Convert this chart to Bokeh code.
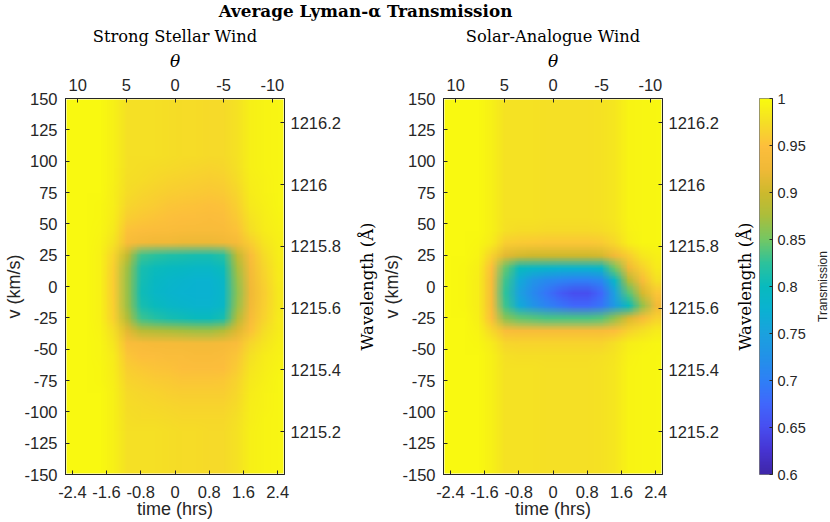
import base64
import struct
import zlib

import numpy as np
from bokeh.plotting import figure
from bokeh.models import (Range1d, LinearAxis, FixedTicker, CustomJSTickFormatter,
                          LinearColorMapper, Title)
from bokeh.layouts import row, column
from bokeh.embed import file_html
from bokeh.resources import INLINE

# ---------------- data ----------------
TIME_H = [-2.4, -2.08, -1.76, -1.44, -1.12, -0.8, -0.48, -0.16,
          0.16, 0.48, 0.8, 1.12, 1.44, 1.76, 2.08, 2.4]          # bin centres (hrs)
TIME_STEP = 0.32
VEL_KMS = list(range(-145, 150, 10))                                 # bin centres (km/s)
VEL_STEP = 10

THETA_TICKS = [10, 5, 0, -5, -10]
THETA_LIMITS = [11.25, -11.25]
TIME_TICKS = [-2.4, -1.6, -0.8, 0, 0.8, 1.6, 2.4]
VEL_TICKS = list(range(-150, 151, 25))
WL_TICKS = [1215.2, 1215.4, 1215.6, 1215.8, 1216.0, 1216.2]
CB_TICKS = [0.6, 0.65, 0.7, 0.75, 0.8, 0.85, 0.9, 0.95, 1.0]
LYA_REST = 1215.67
C_KMS = 299792.458

# Strong stellar wind: transmission far from line centre, per time bin
STRONG_BG = [0.998, 0.998, 0.997, 0.990, 0.976, 0.975, 0.975, 0.974,
             0.973, 0.972, 0.971, 0.971, 0.978, 0.990, 0.993, 0.995]
STRONG_LINE_VEL = [95, 85, 75, 65, 55, 45, 35, 25, 15, 5, -5, -15, -25, -35,
                   -45, -55, -65, -75, -85, -95, -105]
STRONG_LINE = [
    [0.998, 0.998, 0.997, 0.990, 0.975, 0.974, 0.973, 0.971, 0.970, 0.968, 0.967, 0.968, 0.976, 0.990, 0.993, 0.995],
    [0.998, 0.998, 0.997, 0.990, 0.974, 0.972, 0.970, 0.967, 0.965, 0.963, 0.962, 0.963, 0.972, 0.988, 0.992, 0.995],
    [0.998, 0.998, 0.997, 0.989, 0.972, 0.968, 0.965, 0.962, 0.960, 0.958, 0.957, 0.958, 0.968, 0.986, 0.991, 0.994],
    [0.998, 0.998, 0.996, 0.988, 0.968, 0.963, 0.960, 0.956, 0.954, 0.952, 0.951, 0.953, 0.963, 0.983, 0.990, 0.994],
    [0.998, 0.998, 0.996, 0.986, 0.962, 0.957, 0.954, 0.951, 0.949, 0.947, 0.946, 0.948, 0.958, 0.979, 0.988, 0.993],
    [0.998, 0.998, 0.995, 0.983, 0.953, 0.948, 0.946, 0.944, 0.942, 0.940, 0.940, 0.942, 0.952, 0.974, 0.986, 0.992],
    [0.998, 0.997, 0.993, 0.978, 0.940, 0.930, 0.926, 0.925, 0.923, 0.923, 0.923, 0.925, 0.935, 0.962, 0.980, 0.990],
    [0.998, 0.997, 0.991, 0.966, 0.890, 0.830, 0.822, 0.817, 0.813, 0.810, 0.810, 0.820, 0.890, 0.945, 0.972, 0.988],
    [0.998, 0.997, 0.991, 0.962, 0.870, 0.812, 0.803, 0.798, 0.794, 0.790, 0.790, 0.803, 0.872, 0.935, 0.968, 0.986],
    [0.998, 0.997, 0.991, 0.960, 0.866, 0.808, 0.795, 0.786, 0.782, 0.778, 0.778, 0.790, 0.865, 0.930, 0.965, 0.985],
    [0.998, 0.997, 0.991, 0.960, 0.866, 0.805, 0.790, 0.782, 0.778, 0.775, 0.775, 0.786, 0.860, 0.925, 0.962, 0.984],
    [0.998, 0.997, 0.991, 0.961, 0.868, 0.812, 0.800, 0.790, 0.785, 0.780, 0.780, 0.790, 0.865, 0.930, 0.963, 0.984],
    [0.998, 0.997, 0.991, 0.964, 0.880, 0.830, 0.820, 0.810, 0.805, 0.800, 0.800, 0.810, 0.880, 0.940, 0.967, 0.985],
    [0.998, 0.997, 0.993, 0.974, 0.915, 0.885, 0.880, 0.875, 0.872, 0.870, 0.870, 0.880, 0.912, 0.952, 0.974, 0.987],
    [0.998, 0.998, 0.994, 0.980, 0.945, 0.940, 0.937, 0.935, 0.933, 0.932, 0.932, 0.935, 0.945, 0.968, 0.980, 0.990],
    [0.998, 0.998, 0.995, 0.985, 0.955, 0.950, 0.947, 0.945, 0.943, 0.942, 0.942, 0.944, 0.955, 0.975, 0.986, 0.992],
    [0.998, 0.998, 0.996, 0.987, 0.962, 0.957, 0.954, 0.952, 0.950, 0.948, 0.948, 0.950, 0.960, 0.980, 0.989, 0.993],
    [0.998, 0.998, 0.996, 0.988, 0.967, 0.963, 0.960, 0.958, 0.956, 0.955, 0.955, 0.957, 0.966, 0.983, 0.990, 0.994],
    [0.998, 0.998, 0.997, 0.990, 0.971, 0.968, 0.966, 0.964, 0.962, 0.961, 0.961, 0.962, 0.970, 0.986, 0.991, 0.994],
    [0.998, 0.998, 0.997, 0.990, 0.973, 0.971, 0.969, 0.968, 0.967, 0.966, 0.966, 0.967, 0.973, 0.988, 0.992, 0.995],
    [0.998, 0.998, 0.997, 0.990, 0.974, 0.973, 0.972, 0.971, 0.970, 0.969, 0.969, 0.970, 0.975, 0.989, 0.993, 0.995],
]

# Solar-analogue wind
SOLAR_BG = [0.998, 0.998, 0.997, 0.990, 0.978, 0.977, 0.977, 0.976,
            0.976, 0.976, 0.976, 0.977, 0.982, 0.993, 0.995, 0.996]
SOLAR_LINE_VEL = [45, 35, 25, 15, 5, -5, -15, -25, -35, -45, -55]
SOLAR_LINE = [
    [0.998, 0.998, 0.997, 0.990, 0.975, 0.973, 0.972, 0.971, 0.971, 0.971, 0.971, 0.972, 0.979, 0.992, 0.995, 0.996],
    [0.998, 0.998, 0.996, 0.985, 0.962, 0.958, 0.957, 0.956, 0.956, 0.956, 0.956, 0.958, 0.970, 0.988, 0.994, 0.996],
    [0.998, 0.997, 0.993, 0.965, 0.915, 0.905, 0.900, 0.900, 0.900, 0.900, 0.900, 0.905, 0.930, 0.962, 0.982, 0.990],
    [0.998, 0.996, 0.990, 0.950, 0.845, 0.800, 0.790, 0.785, 0.780, 0.780, 0.780, 0.790, 0.850, 0.925, 0.965, 0.985],
    [0.998, 0.996, 0.988, 0.940, 0.830, 0.765, 0.730, 0.715, 0.705, 0.700, 0.700, 0.710, 0.790, 0.880, 0.940, 0.975],
    [0.998, 0.996, 0.988, 0.938, 0.825, 0.750, 0.715, 0.690, 0.665, 0.650, 0.650, 0.675, 0.750, 0.840, 0.905, 0.955],
    [0.998, 0.996, 0.988, 0.940, 0.830, 0.765, 0.730, 0.705, 0.690, 0.675, 0.675, 0.690, 0.740, 0.800, 0.865, 0.930],
    [0.998, 0.997, 0.990, 0.950, 0.860, 0.845, 0.840, 0.835, 0.835, 0.835, 0.835, 0.840, 0.865, 0.910, 0.940, 0.965],
    [0.998, 0.997, 0.993, 0.970, 0.945, 0.940, 0.940, 0.940, 0.940, 0.940, 0.940, 0.942, 0.950, 0.965, 0.975, 0.985],
    [0.998, 0.998, 0.996, 0.985, 0.968, 0.966, 0.966, 0.966, 0.966, 0.966, 0.966, 0.967, 0.975, 0.988, 0.992, 0.995],
    [0.998, 0.998, 0.997, 0.990, 0.975, 0.974, 0.974, 0.974, 0.974, 0.974, 0.974, 0.975, 0.980, 0.992, 0.994, 0.996],
]

# colormap anchors (parula-like, sampled from the reference colour bar)
CMAP_FRAC = [0.0, 0.0625, 0.125, 0.1875, 0.25, 0.3125, 0.375, 0.4375, 0.5,
             0.5625, 0.625, 0.6875, 0.75, 0.8125, 0.875, 0.9375, 1.0]
CMAP_RGB = [(62, 38, 168), (70, 52, 210), (71, 78, 240), (64, 103, 252),
            (46, 128, 246), (34, 146, 232), (27, 162, 222), (10, 178, 210),
            (8, 186, 190), (45, 194, 155), (115, 199, 100), (170, 190, 60),
            (205, 185, 45), (240, 185, 55), (253, 190, 60), (245, 222, 38),
            (249, 251, 14)]
CLIM = (0.6, 1.0)

# ---------------- styling / layout constants ----------------
AX = "#262626"
SANS = "Liberation Sans"
SERIF = "DejaVu Serif"
TICK_FS = "16.5px"
LABEL_FS = "18px"
FIG_H = 502
BORDER_TOP = 78
BORDER_BOTTOM = 48


def build_grid(bg, line_vel, line_rows):
    lookup = dict(zip(line_vel, line_rows))
    return np.array([lookup.get(v, bg) for v in VEL_KMS], dtype=float)


N_COL = 256
PAL_RGB = [tuple(int(round(np.interp(f, CMAP_FRAC, [c[i] for c in CMAP_RGB])))
                 for i in range(3)) for f in np.linspace(0, 1, N_COL)]
PALETTE = ["#%02x%02x%02x" % c for c in PAL_RGB]
mapper = LinearColorMapper(palette=PALETTE, low=CLIM[0], high=CLIM[1])


def heatmap_png(grid):
    """Colour the data cells with the same palette / limits as the colour mapper
    and pack them (one pixel per cell) as a PNG, so the browser can draw the
    image with smooth (interpolated) scaling like the reference."""
    idx = np.floor((grid - CLIM[0]) / (CLIM[1] - CLIM[0]) * N_COL).astype(int)
    idx = np.clip(idx, 0, N_COL - 1)
    rows_top_down = idx[::-1]
    h, w = rows_top_down.shape
    raw = b"".join(b"\x00" + bytes([ch for k in r for ch in PAL_RGB[k]])
                   for r in rows_top_down)

    def chunk(tag, data):
        return (struct.pack(">I", len(data)) + tag + data +
                struct.pack(">I", zlib.crc32(tag + data) & 0xffffffff))

    png = (b"\x89PNG\r\n\x1a\n" +
           chunk(b"IHDR", struct.pack(">IIBBBBB", w, h, 8, 2, 0, 0, 0)) +
           chunk(b"IDAT", zlib.compress(raw, 9)) + chunk(b"IEND", b""))
    return "data:image/png;base64," + base64.b64encode(png).decode()


fmt_code = "return String(Math.round(tick*100)/100);"

t_lo = TIME_H[0] - TIME_STEP / 2
t_hi = TIME_H[-1] + TIME_STEP / 2
v_lo = VEL_KMS[0] - VEL_STEP / 2
v_hi = VEL_KMS[-1] + VEL_STEP / 2
wl_lo = LYA_REST * (1 + v_lo / C_KMS)
wl_hi = LYA_REST * (1 + v_hi / C_KMS)


def style_axis(ax, standoff, tick_in=4, fs=TICK_FS):
    ax.major_tick_in = tick_in
    ax.major_tick_out = 0
    ax.minor_tick_in = 0
    ax.minor_tick_out = 0
    ax.axis_line_color = AX
    ax.major_tick_line_color = AX
    ax.major_label_text_font = SANS
    ax.major_label_text_font_size = fs
    ax.major_label_text_color = AX
    ax.major_label_standoff = standoff
    ax.formatter = CustomJSTickFormatter(code=fmt_code)


def label_axis(ax, text, standoff, font=SANS, size=LABEL_FS, style="normal", color=AX):
    ax.axis_label = text
    ax.axis_label_standoff = standoff
    ax.axis_label_text_font = font
    ax.axis_label_text_font_size = size
    ax.axis_label_text_font_style = style
    ax.axis_label_text_color = color


def side_title(p, text, side, standoff, font=SERIF, size="16.5px", color="black"):
    t = Title(text=text, align="center", standoff=standoff, text_font=font,
              text_font_size=size, text_font_style="normal", text_color=color)
    p.add_layout(t, side)


def panel(title, grid, width, b_left, b_right, left_title=None):
    p = figure(width=width, height=FIG_H, toolbar_location=None, output_backend="svg",
               title=None,
               x_range=Range1d(t_lo, t_hi), y_range=Range1d(v_lo, v_hi),
               min_border_left=b_left, min_border_right=b_right,
               min_border_top=BORDER_TOP, min_border_bottom=BORDER_BOTTOM,
               x_axis_location="below", y_axis_location="left")
    p.extra_x_ranges = {"theta": Range1d(THETA_LIMITS[0], THETA_LIMITS[1])}
    p.extra_y_ranges = {"wl": Range1d(wl_lo, wl_hi)}
    p.grid.visible = False
    p.outline_line_color = AX
    p.background_fill_color = "white"
    p.border_fill_color = "white"
    p.image_url(url=[heatmap_png(grid)], x=t_lo, y=v_hi, w=t_hi - t_lo, h=v_hi - v_lo,
                anchor="top_left")

    bottom = p.below[0]
    bottom.ticker = FixedTicker(ticks=TIME_TICKS)
    style_axis(bottom, 11)
    label_axis(bottom, "time (hrs)", -2)
    left = p.left[0]
    left.ticker = FixedTicker(ticks=VEL_TICKS)
    style_axis(left, 8)
    label_axis(left, "v (km/s)", -3)

    top = LinearAxis(x_range_name="theta", ticker=FixedTicker(ticks=THETA_TICKS))
    style_axis(top, 8)
    label_axis(top, "\u03b8", 5, font=SERIF, size="17px", style="italic", color="black")
    p.add_layout(top, "above")
    right = LinearAxis(y_range_name="wl", ticker=FixedTicker(ticks=WL_TICKS))
    style_axis(right, 6)
    p.add_layout(right, "right")

    p.add_layout(Title(text=title, align="center", standoff=3, text_font=SERIF,
                       text_font_size="16.3px", text_font_style="normal",
                       text_color="black"), "above")
    if left_title is not None:
        side_title(p, left_title, "left", 6)
    return p


strong = build_grid(STRONG_BG, STRONG_LINE_VEL, STRONG_LINE)
solar = build_grid(SOLAR_BG, SOLAR_LINE_VEL, SOLAR_LINE)

p1 = panel("Strong Stellar Wind", strong, 350, 65, 66)
p2 = panel("Solar-Analogue Wind", solar, 375, 93, 63, left_title="Wavelength (\u00c5)")

# colour bar
p3 = figure(width=83, height=FIG_H, toolbar_location=None, output_backend="svg",
            title=None, x_range=Range1d(0, 1), y_range=Range1d(CLIM[0], CLIM[1]),
            min_border_left=34, min_border_right=35,
            min_border_top=BORDER_TOP, min_border_bottom=BORDER_BOTTOM,
            x_axis_location=None, y_axis_location="right")
p3.grid.visible = False
p3.outline_line_color = AX
p3.outline_line_alpha = 0.6
ramp = np.linspace(CLIM[0], CLIM[1], N_COL).reshape(N_COL, 1)
p3.image(image=[ramp], x=0, y=CLIM[0], dw=1, dh=CLIM[1] - CLIM[0], color_mapper=mapper)
cb_ax = p3.right[0]
cb_ax.ticker = FixedTicker(ticks=CB_TICKS)
style_axis(cb_ax, 5, tick_in=3, fs="14.5px")
side_title(p3, "Wavelength (\u00c5)", "left", 10)

# holder for the colour-bar label
p4 = figure(width=22, height=FIG_H, toolbar_location=None, output_backend="svg",
            title=None, x_range=Range1d(0, 1), y_range=Range1d(0, 1),
            min_border_left=21, min_border_right=0,
            min_border_top=BORDER_TOP, min_border_bottom=BORDER_BOTTOM,
            x_axis_location=None, y_axis_location=None)
p4.grid.visible = False
p4.outline_line_color = None
side_title(p4, "Transmission", "left", 0, font=SANS, size="12px", color=AX)

# main title
pt = figure(width=830, height=20, toolbar_location=None, output_backend="svg",
            title="Average Lyman-\u03b1 Transmission",
            x_range=Range1d(0, 1), y_range=Range1d(0, 1),
            min_border_left=0, min_border_right=100, min_border_top=0, min_border_bottom=0,
            x_axis_location=None, y_axis_location=None)
pt.grid.visible = False
pt.outline_line_color = None
pt.title.align = "center"
pt.title.standoff = 0
pt.title.text_font = SERIF
pt.title.text_font_size = "16.8px"
pt.title.text_font_style = "bold"
pt.title.text_color = "black"

layout = column(pt, row(p1, p2, p3, p4))
open("out.html", "w").write(file_html(layout, INLINE))
